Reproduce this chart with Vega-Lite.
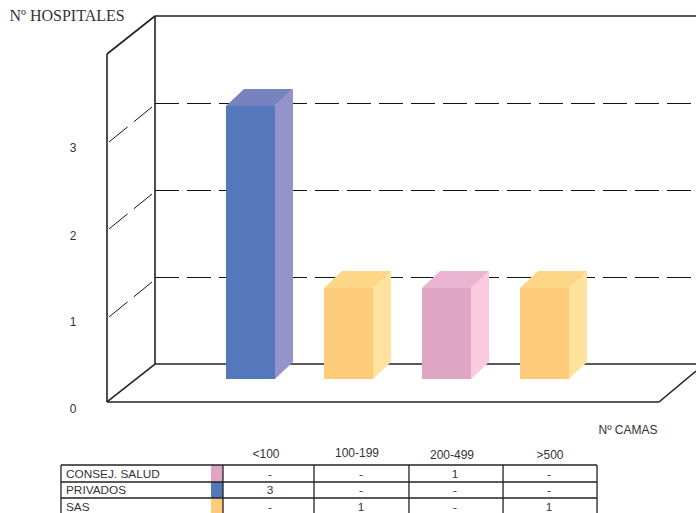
{"$schema":"https://vega.github.io/schema/vega-lite/v6.json","width":696,"height":513,"autosize":"none","padding":0,"background":"white","view":{"stroke":null},
"datasets":{
"barras":[{"camas":"<100","serie":"PRIVADOS","hospitales":3},{"camas":"100-199","serie":"SAS","hospitales":1},{"camas":"200-499","serie":"CONSEJ. SALUD","hospitales":1},{"camas":">500","serie":"SAS","hospitales":1}],
"tabla":[{"serie":"CONSEJ. SALUD","camas":"<100","valor":"-"},{"serie":"CONSEJ. SALUD","camas":"100-199","valor":"-"},{"serie":"CONSEJ. SALUD","camas":"200-499","valor":"1"},{"serie":"CONSEJ. SALUD","camas":">500","valor":"-"},
{"serie":"PRIVADOS","camas":"<100","valor":"3"},{"serie":"PRIVADOS","camas":"100-199","valor":"-"},{"serie":"PRIVADOS","camas":"200-499","valor":"-"},{"serie":"PRIVADOS","camas":">500","valor":"-"},
{"serie":"SAS","camas":"<100","valor":"-"},{"serie":"SAS","camas":"100-199","valor":"1"},{"serie":"SAS","camas":"200-499","valor":"-"},{"serie":"SAS","camas":">500","valor":"1"}],
"marco":[{"a":-0.7245,"b":4.7959,"c":3.989,"d":3.989},{"a":-0.7245,"b":-0.7245,"c":3.989,"d":0.1648},{"a":-1.2143,"b":-0.7245,"c":3.5714,"d":3.989},{"a":-1.2143,"b":-1.2143,"c":3.5714,"d":-0.2527},{"a":-1.2143,"b":-0.7245,"c":-0.2527,"d":0.1648},{"a":-0.7245,"b":4.7959,"c":0.1648,"d":0.1648},{"a":-1.2143,"b":4.4184,"c":-0.2527,"d":-0.2527},{"a":4.4184,"b":4.7959,"c":-0.2527,"d":0.0879}],
"rejilla":[{"a":-0.7245,"b":4.7959,"c":3.0275,"d":3.0275},{"a":-0.7245,"b":4.7959,"c":2.0714,"d":2.0714},{"a":-0.7245,"b":4.7959,"c":1.1154,"d":1.1154},{"a":-1.1939,"b":-0.7551,"c":2.6044,"d":2.989},{"a":-1.1939,"b":-0.7551,"c":1.6484,"d":2.033},{"a":-1.1939,"b":-0.7551,"c":0.6813,"d":1.0659}],
"lineasTabla":[{"a":-1.6837,"b":3.7857,"c":-0.9451,"d":-0.9451},{"a":-1.6837,"b":3.7857,"c":-1.1319,"d":-1.1319},{"a":-1.6837,"b":3.7857,"c":-1.3077,"d":-1.3077},{"a":-1.6837,"b":-1.6837,"c":-0.9451,"d":-1.4725},{"a":-0.0306,"b":-0.0306,"c":-0.9451,"d":-1.4725},{"a":0.898,"b":0.898,"c":-0.9451,"d":-1.4725},{"a":1.867,"b":1.867,"c":-0.9451,"d":-1.4725},{"a":2.827,"b":2.827,"c":-0.9451,"d":-1.4725},{"a":3.786,"b":3.786,"c":-0.9451,"d":-1.4725}],
"textos":[{"t":"3","a":-1.5612,"c":2.5495},{"t":"2","a":-1.5612,"c":1.5824},{"t":"1","a":-1.5612,"c":0.6374},{"t":"0","a":-1.5612,"c":-0.3187},{"t":"<100","a":0.4082,"c":-0.8132},{"t":"100-199","a":1.3367,"c":-0.8022},{"t":"200-499","a":2.3061,"c":-0.8242},{"t":">500","a":3.3061,"c":-0.8242},{"t":"Nº CAMAS","a":4.102,"c":-0.5495}]
},
"layer":[
{"data":{"name":"rejilla"},"mark":{"type":"rule","stroke":"#111111","strokeWidth":1,"strokeDash":[24,8]},"encoding":{"x":{"field":"a","type":"quantitative","axis":null,"scale":{"domain":[-2.3061,4.7959],"nice":false,"zero":false}},"x2":{"field":"b"},"y":{"field":"c","type":"quantitative","axis":null,"scale":{"domain":[-1.4725,4.1648],"nice":false,"zero":false}},"y2":{"field":"d"}}},
{"data":{"name":"marco"},"mark":{"type":"rule","stroke":"#222222","strokeWidth":1.6},"encoding":{"x":{"field":"a","type":"quantitative","axis":null,"scale":{"domain":[-2.3061,4.7959],"nice":false,"zero":false}},"x2":{"field":"b"},"y":{"field":"c","type":"quantitative","axis":null,"scale":{"domain":[-1.4725,4.1648],"nice":false,"zero":false}},"y2":{"field":"d"}}},
{"data":{"name":"barras"},"transform":[{"calculate":"indexof(['<100','100-199','200-499','>500'],datum.camas)","as":"orden"},{"calculate":"[0,1]","as":"k"},{"flatten":["k"]},{"calculate":"datum.orden+0.5+datum.k*0.1837","as":"px"},{"calculate":"datum.hospitales+datum.k*0.187","as":"pa"},{"calculate":"datum.k*0.187","as":"pb"},{"calculate":"datum.serie+'|lado'","as":"cara"}],
"mark":{"type":"area","opacity":1},"encoding":{"detail":{"field":"orden"},"x":{"field":"px","type":"quantitative","axis":null,"scale":{"domain":[-2.3061,4.7959],"nice":false,"zero":false}},"y":{"field":"pa","type":"quantitative","axis":null,"scale":{"domain":[-1.4725,4.1648],"nice":false,"zero":false}},"y2":{"field":"pb"},"color":{"field":"cara","type":"nominal","legend":null,"scale":{"domain":["PRIVADOS|frente","SAS|frente","CONSEJ. SALUD|frente","PRIVADOS|lado","SAS|lado","CONSEJ. SALUD|lado","PRIVADOS|tapa","SAS|tapa","CONSEJ. SALUD|tapa"],"range":["#5578BC","#FDCB7A","#DEA6C3","#9494CA","#FEE29E","#FBCADF","#7683BF","#FDD688","#E9B5D0"]}}}},
{"data":{"name":"barras"},"transform":[{"calculate":"indexof(['<100','100-199','200-499','>500'],datum.camas)","as":"orden"},{"calculate":"[0,1]","as":"k"},{"flatten":["k"]},{"calculate":"datum.orden+datum.k*0.1837","as":"pi"},{"calculate":"datum.pi+0.5","as":"pf"},{"calculate":"datum.hospitales+datum.k*0.187","as":"pa"},{"calculate":"datum.serie+'|tapa'","as":"cara"}],
"mark":{"type":"area","orient":"horizontal","opacity":1},"encoding":{"detail":{"field":"orden"},"x":{"field":"pi","type":"quantitative","axis":null,"scale":{"domain":[-2.3061,4.7959],"nice":false,"zero":false}},"x2":{"field":"pf"},"y":{"field":"pa","type":"quantitative","axis":null,"scale":{"domain":[-1.4725,4.1648],"nice":false,"zero":false}},"color":{"field":"cara","type":"nominal","legend":null,"scale":{"domain":["PRIVADOS|frente","SAS|frente","CONSEJ. SALUD|frente","PRIVADOS|lado","SAS|lado","CONSEJ. SALUD|lado","PRIVADOS|tapa","SAS|tapa","CONSEJ. SALUD|tapa"],"range":["#5578BC","#FDCB7A","#DEA6C3","#9494CA","#FEE29E","#FBCADF","#7683BF","#FDD688","#E9B5D0"]}}}},
{"data":{"name":"barras"},"transform":[{"calculate":"indexof(['<100','100-199','200-499','>500'],datum.camas)","as":"orden"},{"calculate":"datum.orden+0.5","as":"fin"},{"calculate":"0","as":"base"},{"calculate":"datum.serie+'|frente'","as":"cara"}],
"mark":{"type":"rect"},"encoding":{"x":{"field":"orden","type":"quantitative","axis":null,"scale":{"domain":[-2.3061,4.7959],"nice":false,"zero":false}},"x2":{"field":"fin"},"y":{"field":"hospitales","type":"quantitative","axis":null,"scale":{"domain":[-1.4725,4.1648],"nice":false,"zero":false}},"y2":{"field":"base"},"color":{"field":"cara","type":"nominal","legend":null,"scale":{"domain":["PRIVADOS|frente","SAS|frente","CONSEJ. SALUD|frente","PRIVADOS|lado","SAS|lado","CONSEJ. SALUD|lado","PRIVADOS|tapa","SAS|tapa","CONSEJ. SALUD|tapa"],"range":["#5578BC","#FDCB7A","#DEA6C3","#9494CA","#FEE29E","#FBCADF","#7683BF","#FDD688","#E9B5D0"]}}}},
{"data":{"values":[{"serie":"CONSEJ. SALUD"},{"serie":"PRIVADOS"},{"serie":"SAS"}]},"transform":[{"calculate":"indexof(['CONSEJ. SALUD','PRIVADOS','SAS'],datum.serie)","as":"fila"},{"calculate":"-0.9451-0.182*datum.fila","as":"sup"},{"calculate":"datum.sup-0.182","as":"inf"},{"calculate":"-0.1531","as":"ini"},{"calculate":"-0.0306","as":"fin"},{"calculate":"datum.serie+'|frente'","as":"cara"}],
"mark":{"type":"rect"},"encoding":{"x":{"field":"ini","type":"quantitative","axis":null,"scale":{"domain":[-2.3061,4.7959],"nice":false,"zero":false}},"x2":{"field":"fin"},"y":{"field":"sup","type":"quantitative","axis":null,"scale":{"domain":[-1.4725,4.1648],"nice":false,"zero":false}},"y2":{"field":"inf"},"color":{"field":"cara","type":"nominal","legend":null,"scale":{"domain":["PRIVADOS|frente","SAS|frente","CONSEJ. SALUD|frente","PRIVADOS|lado","SAS|lado","CONSEJ. SALUD|lado","PRIVADOS|tapa","SAS|tapa","CONSEJ. SALUD|tapa"],"range":["#5578BC","#FDCB7A","#DEA6C3","#9494CA","#FEE29E","#FBCADF","#7683BF","#FDD688","#E9B5D0"]}}}},
{"data":{"name":"lineasTabla"},"mark":{"type":"rule","stroke":"#222222","strokeWidth":1.3},"encoding":{"x":{"field":"a","type":"quantitative","axis":null,"scale":{"domain":[-2.3061,4.7959],"nice":false,"zero":false}},"x2":{"field":"b"},"y":{"field":"c","type":"quantitative","axis":null,"scale":{"domain":[-1.4725,4.1648],"nice":false,"zero":false}},"y2":{"field":"d"}}},
{"data":{"name":"textos"},"mark":{"type":"text","font":"Liberation Sans","fontSize":12,"dy":1,"fill":"#333333","align":"center","baseline":"middle"},"encoding":{"text":{"field":"t"},"x":{"field":"a","type":"quantitative","axis":null,"scale":{"domain":[-2.3061,4.7959],"nice":false,"zero":false}},"y":{"field":"c","type":"quantitative","axis":null,"scale":{"domain":[-1.4725,4.1648],"nice":false,"zero":false}}}},
{"data":{"values":[{"t":"Nº HOSPITALES","a":-2.21,"c":3.989}]},"mark":{"type":"text","font":"Liberation Serif","fontSize":16,"dy":0,"fill":"#333333","align":"left","baseline":"middle"},"encoding":{"text":{"field":"t"},"x":{"field":"a","type":"quantitative","axis":null,"scale":{"domain":[-2.3061,4.7959],"nice":false,"zero":false}},"y":{"field":"c","type":"quantitative","axis":null,"scale":{"domain":[-1.4725,4.1648],"nice":false,"zero":false}}}},
{"data":{"values":[{"serie":"CONSEJ. SALUD"},{"serie":"PRIVADOS"},{"serie":"SAS"}]},"transform":[{"calculate":"-1.6327","as":"a"},{"calculate":"indexof(['CONSEJ. SALUD','PRIVADOS','SAS'],datum.serie)","as":"fila"},{"calculate":"-1.04-0.183*datum.fila","as":"c"}],"mark":{"type":"text","font":"Liberation Sans","fontSize":11.8,"fill":"#333333","align":"left","baseline":"middle"},"encoding":{"text":{"field":"serie"},"x":{"field":"a","type":"quantitative","axis":null,"scale":{"domain":[-2.3061,4.7959],"nice":false,"zero":false}},"y":{"field":"c","type":"quantitative","axis":null,"scale":{"domain":[-1.4725,4.1648],"nice":false,"zero":false}}}},
{"data":{"name":"tabla"},"transform":[{"calculate":"[0.449,1.378,2.337,3.296][indexof(['<100','100-199','200-499','>500'],datum.camas)]","as":"a"},{"calculate":"indexof(['CONSEJ. SALUD','PRIVADOS','SAS'],datum.serie)","as":"fila"},{"calculate":"-1.04-0.183*datum.fila","as":"c"}],"mark":{"type":"text","font":"Liberation Sans","fontSize":11.8,"fill":"#333333","align":"center","baseline":"middle"},"encoding":{"text":{"field":"valor"},"x":{"field":"a","type":"quantitative","axis":null,"scale":{"domain":[-2.3061,4.7959],"nice":false,"zero":false}},"y":{"field":"c","type":"quantitative","axis":null,"scale":{"domain":[-1.4725,4.1648],"nice":false,"zero":false}}}}
]}
